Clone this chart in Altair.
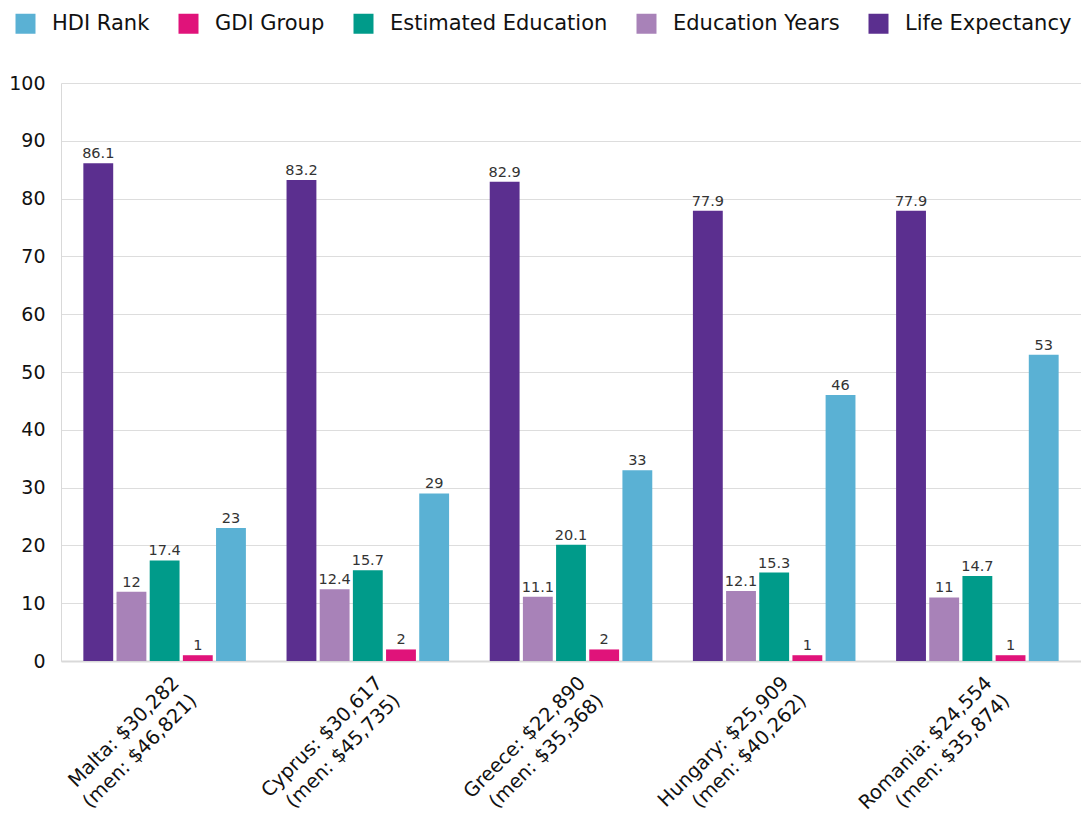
import altair as alt
import pandas as pd

countries = [
    "Malta: $30,282|(men: $46,821)",
    "Cyprus: $30,617|(men: $45,735)",
    "Greece: $22,890|(men: $35,368)",
    "Hungary: $25,909|(men: $40,262)",
    "Romania: $24,554|(men: $35,874)",
]
life_expectancy = [86.1, 83.2, 82.9, 77.9, 77.9]
education_years = [12, 12.4, 11.1, 12.1, 11]
estimated_education = [17.4, 15.7, 20.1, 15.3, 14.7]
gdi_group = [1, 2, 2, 1, 1]
hdi_rank = [23, 29, 33, 46, 53]

bar_order = ["Life Expectancy", "Education Years", "Estimated Education", "GDI Group", "HDI Rank"]
legend_order = ["HDI Rank", "GDI Group", "Estimated Education", "Education Years", "Life Expectancy"]
legend_colors = ["#5ab1d4", "#e0137a", "#009b8a", "#a882b8", "#5b2f8f"]

series = {
    "Life Expectancy": life_expectancy,
    "Education Years": education_years,
    "Estimated Education": estimated_education,
    "GDI Group": gdi_group,
    "HDI Rank": hdi_rank,
}

rows = []
for name in bar_order:
    for c, v in zip(countries, series[name]):
        rows.append({"country": c, "series": name, "value": v})
df = pd.DataFrame(rows)

FONT = "DejaVu Sans"

x = alt.X(
    "country:N",
    sort=countries,
    title=None,
    scale=alt.Scale(paddingInner=0.2, paddingOuter=0.11),
    axis=alt.Axis(
        labelAngle=-45,
        labelAlign="right",
        labelBaseline="top",
        labelExpr="split(datum.label, '|')",
        labelFontSize=19.5,
        labelColor="#111",
        labelPadding=12,
        labelOffset=5,
        labelLineHeight=25,
        labelLimit=400,
        ticks=False,
        domainColor="#d9d9d9",
        domainWidth=2,
        grid=False,
        labelFont=FONT,
    ),
)
xo = alt.XOffset("series:N", sort=bar_order, scale=alt.Scale(paddingInner=0.1))
y = alt.Y(
    "value:Q",
    title=None,
    scale=alt.Scale(domain=[0, 100]),
    axis=alt.Axis(
        values=list(range(0, 101, 10)),
        ticks=False,
        labelFontSize=19,
        labelColor="#111",
        labelPadding=16,
        domainColor="#d9d9d9",
        gridColor="#dddddd",
        labelFont=FONT,
    ),
)

bars = alt.Chart(df).mark_bar().encode(
    x=x,
    xOffset=xo,
    y=y,
    color=alt.Color(
        "series:N",
        scale=alt.Scale(domain=legend_order, range=legend_colors),
        legend=alt.Legend(
            title=None,
            orient="none",
            direction="horizontal",
            legendX=-46,
            legendY=-70,
            symbolType="square",
            symbolSize=400,
            symbolStrokeWidth=0,
            labelFontSize=21,
            labelColor="#111",
            labelOffset=16,
            labelLimit=400,
            columnPadding=28,
            labelFont=FONT,
        ),
    ),
)

labels = alt.Chart(df).mark_text(dy=-9, fontSize=14.5, color="#333", font=FONT).encode(
    x=x,
    xOffset=xo,
    y=y,
    text=alt.Text("value:Q"),
)

chart = (
    alt.layer(bars, labels)
    .properties(
        width=1020,
        height=578,
        autosize=alt.AutoSizeParams(type="none"),
        padding={"left": 61, "top": 83, "right": 0, "bottom": 154},
    )
    .configure_view(stroke=None)
)

chart.save("out.html", embed_options={"renderer": "svg", "actions": False})
